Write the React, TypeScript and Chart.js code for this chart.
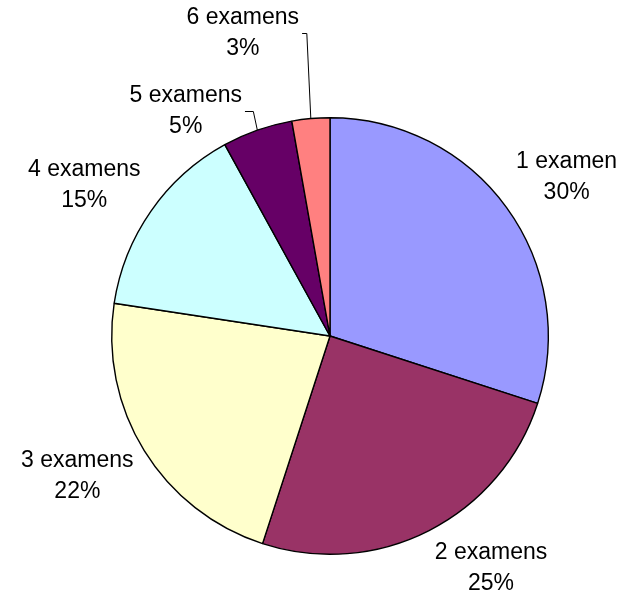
import React, { useEffect, useRef } from "react";
import { Chart, registerables } from "chart.js";

Chart.register(...registerables);

const CATEGORIES = ["1 examen", "2 examens", "3 examens", "4 examens", "5 examens", "6 examens"];
const SHARES = [30, 25, 22.4, 14.6, 5.2, 2.8];
const COLORS = ["#9999FF", "#993366", "#FFFFCC", "#CCFFFF", "#660066", "#FF8080"];
// label nudges (px) relative to the default outside position, and leader-line flags
const LABEL_OFFSETS: [number, number][] = [[5, 9], [31, -23], [-9, -10], [-11, 13], [-49, 45], [-62, -18]];
const HAS_LEADER = [false, false, false, false, true, true];

const FONT = '23px "Liberation Sans", Arial, sans-serif';
const LINE_GAP = 31;
const LABEL_EXTRA_RADIUS = 68;

const labelPlugin = {
  id: "outsideLabels",
  afterDraw(chart: any) {
    const ctx = chart.ctx as CanvasRenderingContext2D;
    const meta = chart.getDatasetMeta(0);
    const total = SHARES.reduce((a, b) => a + b, 0);
    ctx.save();
    ctx.font = FONT;
    ctx.fillStyle = "#000";
    ctx.textAlign = "center";
    ctx.textBaseline = "middle";
    meta.data.forEach((arc: any, i: number) => {
      const { x, y, startAngle, endAngle, outerRadius } = arc.getProps(
        ["x", "y", "startAngle", "endAngle", "outerRadius"],
        true
      );
      const mid = (startAngle + endAngle) / 2;
      const r = outerRadius + LABEL_EXTRA_RADIUS;
      const cx = x + r * Math.cos(mid) + LABEL_OFFSETS[i][0];
      const cy = y + r * Math.sin(mid) + LABEL_OFFSETS[i][1];
      const name = CATEGORIES[i];
      const pct = Math.round((SHARES[i] / total) * 100) + "%";
      ctx.fillText(name, cx, cy - LINE_GAP / 2);
      ctx.fillText(pct, cx, cy + LINE_GAP / 2);
      if (HAS_LEADER[i]) {
        const w = Math.max(ctx.measureText(name).width, ctx.measureText(pct).width);
        const ax = x + outerRadius * Math.cos(mid);
        const ay = y + outerRadius * Math.sin(mid);
        ctx.beginPath();
        ctx.strokeStyle = "#000";
        ctx.lineWidth = 1;
        ctx.moveTo(cx + w / 2 + 3, Math.round(cy) + 0.5);
        ctx.lineTo(ax - 4, Math.round(cy) + 0.5);
        ctx.lineTo(ax, ay);
        ctx.stroke();
      }
    });
    ctx.restore();
  },
};

export default function App() {
  const ref = useRef<HTMLCanvasElement | null>(null);
  useEffect(() => {
    if (!ref.current) return;
    const chart = new Chart(ref.current, {
      type: "pie",
      data: {
        labels: CATEGORIES,
        datasets: [
          {
            data: SHARES,
            backgroundColor: COLORS,
            borderColor: "#000",
            borderWidth: 1.4,
          },
        ],
      },
      options: {
        responsive: false,
        animation: false,
        devicePixelRatio: 1,
        layout: { padding: { left: 111, right: 84, top: 117, bottom: 45 } },
        plugins: {
          legend: { display: false },
          tooltip: { enabled: false },
        },
      },
      plugins: [labelPlugin],
    });
    return () => chart.destroy();
  }, []);
  return (
    <div style={{ position: "absolute", left: 0, top: 0, width: 633, height: 600, background: "#fff" }}>
      <canvas ref={ref} width={633} height={600} style={{ display: "block" }} />
    </div>
  );
}
